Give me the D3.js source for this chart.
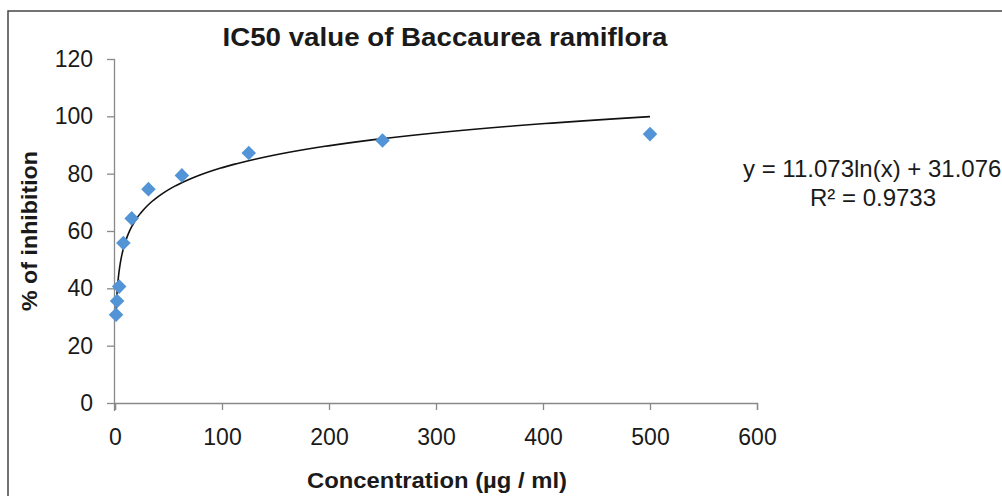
<!DOCTYPE html>
<html>
<head>
<meta charset="utf-8">
<script src="https://cdn.jsdelivr.net/npm/d3@7"></script>
<style>
  body { margin: 0; background: #fff; }
  text { font-family: "Liberation Sans", Arial, sans-serif; fill: #1a1a1a; }
</style>
</head>
<body>
<svg id="chart" width="1002" height="496"></svg>
<script>
// data
var concentration = [0.98, 1.95, 3.9, 7.8, 15.6, 31.25, 62.5, 125, 250, 500];
var inhibition = [30.8, 35.6, 40.6, 55.8, 64.4, 74.6, 79.4, 87.2, 91.6, 93.8];
var xTicks = [0, 100, 200, 300, 400, 500, 600];
var yTicks = [0, 20, 40, 60, 80, 100, 120];
var fitA = 11.073, fitB = 31.076;

var svg = d3.select('#chart');

//outer frame
svg.append('path')
      .attr('d', 'M8,496 L8,11 L1002,11')
      .attr('fill', 'none')
      .attr('stroke', '#444')
      .attr('stroke-width', 1.5);

var x = d3.scaleLinear().domain([0, 600]).range([115, 757]);
var y = d3.scaleLinear().domain([0, 120]).range([403, 59]);

//axes
var xAxis = svg.append('g')
      .attr('transform', 'translate(0,' + y(0) + ')')
      .call(d3.axisBottom(x).tickValues(xTicks).tickSize(7).tickPadding(19));
var yAxis = svg.append('g')
      .attr('transform', 'translate(' + x(0) + ',0)')
      .call(d3.axisLeft(y).tickValues(yTicks).tickSize(8).tickPadding(14));

[xAxis, yAxis].forEach(function (ax) {
      ax.select('.domain').attr('stroke', '#898989').attr('stroke-width', 1.3);
      ax.selectAll('.tick line').attr('stroke', '#898989').attr('stroke-width', 1.3);
      ax.selectAll('.tick text')
            .style('font-family', '"Liberation Sans", Arial, sans-serif')
            .style('font-size', '23px')
            .attr('fill', '#1a1a1a');
});
xAxis.selectAll('.tick text').attr('dy', '0.71em');
yAxis.select('.domain').attr('d', 'M-0.5,' + y(120) + 'V' + (y(0) + 8));

//trendline
var fitX = d3.range(0, 401).map(function (i) {
      return Math.exp(Math.log(concentration[0]) + (Math.log(500) - Math.log(concentration[0])) * i / 400);
});
var line = d3.line()
      .x(function (d) { return x(d); })
      .y(function (d) { return y(fitA * Math.log(d) + fitB); });
svg.append('path')
      .datum(fitX)
      .attr('d', line)
      .attr('fill', 'none')
      .attr('stroke', '#111')
      .attr('stroke-width', 1.6);

//points
var sym = d3.symbol().type(d3.symbolDiamond2).size(135);
svg.selectAll('.pt')
      .data(concentration)
      .enter().append('path')
      .attr('class', 'pt')
      .attr('d', sym)
      .attr('transform', function (d, i) { return 'translate(' + x(d) + ',' + y(inhibition[i]) + ')'; })
      .attr('fill', '#5294d6');

function fitText(t, w) {
      t.attr('textLength', w).attr('lengthAdjust', 'spacingAndGlyphs');
}

//title
svg.append('text')
      .attr('x', 445).attr('y', 46)
      .attr('text-anchor', 'middle')
      .style('font-size', '26px').style('font-weight', 'bold')
      .text('IC50 value of Baccaurea  ramiflora')
      .call(fitText, 445);

//axis titles
svg.append('text')
      .attr('x', 437).attr('y', 488)
      .attr('text-anchor', 'middle')
      .style('font-size', '22px').style('font-weight', 'bold')
      .text('Concentration (µg / ml)')
      .call(fitText, 260);

svg.append('text')
      .attr('transform', 'translate(37,231) rotate(-90)')
      .attr('text-anchor', 'middle')
      .style('font-size', '22px').style('font-weight', 'bold')
      .text('% of inhibition')
      .call(fitText, 160);

//equation
svg.append('text')
      .attr('x', 743).attr('y', 177)
      .style('font-size', '24px')
      .text('y = 11.073ln(x) + 31.076');
svg.append('text')
      .attr('x', 873).attr('y', 206)
      .attr('text-anchor', 'middle')
      .style('font-size', '24px')
      .text('R² = 0.9733');
</script>
</body>
</html>
